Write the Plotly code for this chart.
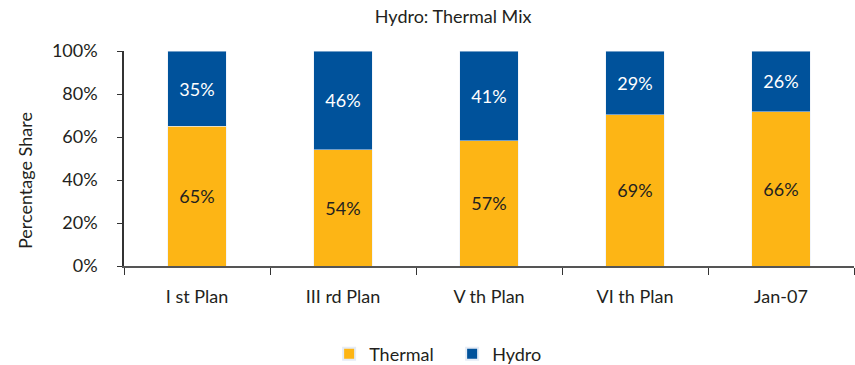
import plotly.graph_objects as go

categories = ["I st Plan", "III rd Plan", "V th Plan", "VI th Plan", "Jan-07"]
thermal = [65, 54, 57, 69, 66]
hydro = [35, 46, 41, 29, 26]
y_ticks = [0, 20, 40, 60, 80, 100]
y_tick_labels = ["0%", "20%", "40%", "60%", "80%", "100%"]

ORANGE = "#FDB515"
BLUE = "#00529B"
FONT = "Lato"
TXT = "#231F20"

fig = go.Figure()
fig.add_trace(go.Bar(
    x=categories, y=thermal, name="Thermal", marker_color=ORANGE,
    text=[f"{v}%" for v in thermal], textposition="inside",
    insidetextanchor="middle", textangle=0,
    textfont=dict(color=TXT, size=18, family=FONT),
))
fig.add_trace(go.Bar(
    x=categories, y=hydro, name="Hydro", marker_color=BLUE,
    text=[f"{v}%" for v in hydro], textposition="inside",
    insidetextanchor="middle", textangle=0,
    textfont=dict(color="white", size=18, family=FONT),
))

fig.update_layout(
    barmode="stack", barnorm="percent", bargap=0.6,
    width=855, height=365,
    margin=dict(l=124, r=1, t=51, b=99, autoexpand=False),
    paper_bgcolor="white", plot_bgcolor="white",
    font=dict(family=FONT, color=TXT, size=18),
    title=dict(text="Hydro: Thermal Mix", x=0.53, xanchor="center",
               y=1 - 17 / 365, yanchor="middle",
               font=dict(size=18, family=FONT, color=TXT)),
    uniformtext=dict(mode=False),
    legend=dict(orientation="h", x=0.281, xanchor="left",
                y=-0.41, yanchor="middle",
                font=dict(size=18, family=FONT),
                entrywidth=78, entrywidthmode="pixels",
                traceorder="normal", itemsizing="constant"),
    showlegend=True,
    annotations=[dict(text="Percentage Share", textangle=-90,
                      xref="paper", yref="paper",
                      x=(25 - 124) / 730, y=(266 - 181) / 215,
                      xanchor="center", yanchor="middle", showarrow=False,
                      font=dict(size=18, family=FONT, color=TXT))],
)
fig.update_xaxes(
    showline=True, linecolor="#555555", linewidth=1.5,
    ticks="outside", tickson="boundaries", ticklen=7, tickcolor="#333333",
    ticklabelstandoff=14, automargin=False,
    tickfont=dict(size=18, family=FONT), showgrid=False,
)
fig.update_yaxes(
    range=[0, 100], tickvals=y_ticks, ticktext=y_tick_labels,
    showline=True, linecolor="#333333", linewidth=1.5,
    ticks="outside", ticklen=5, tickcolor="#333333",
    ticklabelstandoff=16, automargin=False,
    showgrid=False, zeroline=False,
    tickfont=dict(size=18, family=FONT),
)

fig.write_html("out.html")
